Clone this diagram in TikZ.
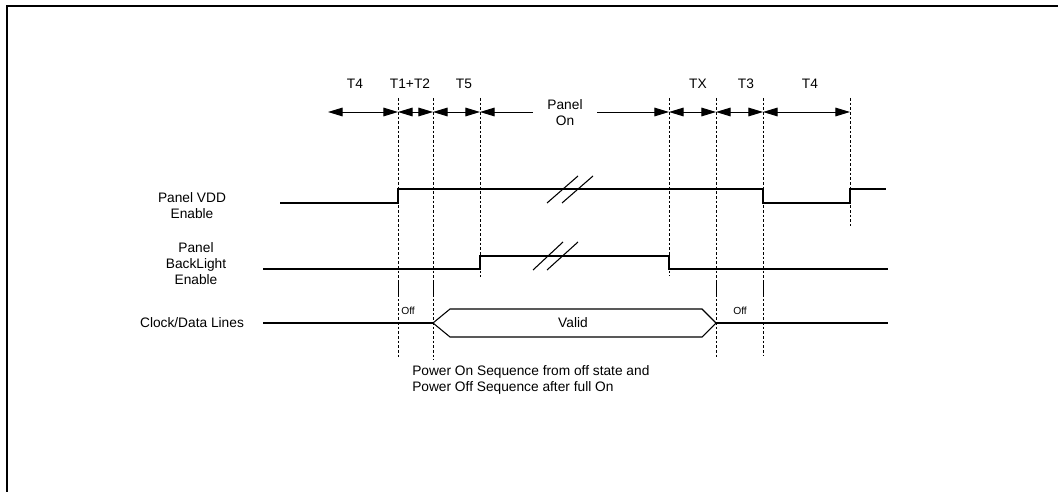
\documentclass[tikz,border=0pt]{standalone}
\usepackage{fontspec}
\setmainfont{Liberation Sans}
\usetikzlibrary{arrows.meta,positioning}

\begin{document}
\begin{tikzpicture}[x=0.75pt, y=-0.75pt,
    lbl/.style={font=\fontsize{10.3}{12}\selectfont, align=center, inner sep=0pt},
    small/.style={font=\fontsize{7.7}{9}\selectfont, inner sep=0pt},
    sig/.style={line width=0.8pt},
    guide/.style={line width=0.6pt, dash pattern=on 2pt off 1.5pt},
    span/.style={{Triangle[length=11pt,width=6.5pt]}-{Triangle[length=11pt,width=6.5pt]}, line width=0.7pt},
    half/.style={-{Triangle[length=11pt,width=6.5pt]}, line width=0.7pt}
]
    \useasboundingbox (0,0) rectangle (1058,492);

    % Frame
    \draw[line width=1.5pt] (7,492) -- (7,6) -- (1058,6);

    % Timing marks
    \foreach \n/\x/\y in {ta/398/357, tb/433/360, tc/480/277, td/669/276, te/716/358, tf/763/355, tg/850/226} {
        \coordinate (\n) at (\x,112);
        \draw[guide] (\x,98) -- (\x,\y);
    }
    \coordinate (t0) at (328,112);
    \foreach \x/\y in {398/280, 433/280, 716/283, 763/283}
        \draw[line width=0.6pt] (\x,\y) -- (\x,297);

    % Interval labels
    \node[lbl] (l4a) at (355,84) {T4};
    \node[lbl] (l12) at (410,84) {T1+T2};
    \node[lbl] (l5) at (464,84) {T5};
    \node[lbl] (lx) at (698,84) {TX};
    \node[lbl] (l3) at (746,84) {T3};
    \node[lbl] (l4b) at (810,84) {T4};
    \node[lbl, minimum width=48pt] (on) at (565,113) {Panel\\On};

    % Interval arrows
    \draw[span] (t0) -- (ta);
    \draw[span] (ta) -- (tb);
    \draw[span] (tb) -- (tc);
    \draw[half] (on.west |- tc) -- (tc);
    \draw[half] (on.east |- td) -- (td);
    \draw[span] (td) -- (te);
    \draw[span] (te) -- (tf);
    \draw[span] (tf) -- (tg);

    % Signal names
    \node[lbl] (vdd) at (192,206) {Panel VDD\\Enable};
    \node[lbl] (bl) at (196,264) {Panel\\BackLight\\Enable};
    \node[lbl] (clk) at (192,323) {Clock/Data Lines};

    % Panel VDD
    \draw[sig] (280,203) -- (398,203) -- (398,189) -- (763,189) -- (763,203) -- (850,203) -- (850,189) -- (886,189);
    \draw[sig] (547,203) -- (578,176) (562,203) -- (593,176);

    % BackLight
    \draw[sig] (263,269) -- (480,269) -- (480,256) -- (669,256) -- (669,269) -- (888,269);
    \draw[sig] (533,270) -- (563,242) (547,270) -- (578,242);

    % Clock/Data
    \draw[sig] (263,323) -- (433,323) (716,323) -- (888,323);
    \draw[sig] (433,323) -- (450,309) -- (702,309) -- (716,323) -- (702,337) -- (450,337) -- cycle;
    \node[lbl] (valid) at (573,323) {Valid};
    \node[small, anchor=west] (off1) at (401,311) {Off};
    \node[small, anchor=west] (off2) at (733,311) {Off};

    % Caption
    \node[lbl, align=left, anchor=west] (cap) at (412,380) {Power On Sequence from off state and\\Power Off Sequence after full On};

\end{tikzpicture}
\end{document}
